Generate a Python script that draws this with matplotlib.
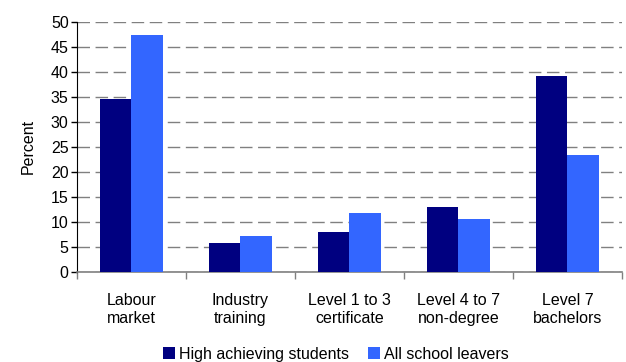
import numpy as np
import matplotlib.pyplot as plt
from matplotlib.ticker import FixedLocator

plt.rcParams['font.family'] = ['Liberation Sans', 'DejaVu Sans']

categories = ['Labour\nmarket', 'Industry\ntraining', 'Level 1 to 3\ncertificate',
              'Level 4 to 7\nnon-degree', 'Level 7\nbachelors']
high_achieving = [34.5, 5.7, 8.0, 13.0, 39.2]
all_leavers = [47.4, 7.2, 11.8, 10.6, 23.4]
series_names = ['High achieving students', 'All school leavers']

fs = 11.5

fig = plt.figure(figsize=(6.26, 3.62), dpi=100)
ax = fig.add_axes([0.123, 0.249, 0.8706, 0.691])

x = np.arange(len(categories))
w = 0.29
ax.bar(x - w / 2, high_achieving, w, color='#000080', label=series_names[0], zorder=3)
ax.bar(x + w / 2, all_leavers, w, color='#3366FF', label=series_names[1], zorder=3)

ax.set_xlim(-0.5, len(categories) - 0.5)
ax.set_ylim(0, 50)
ax.set_yticks(np.arange(0, 51, 5))
ax.yaxis.grid(True, color='#808080', linestyle=(0, (9, 4)), linewidth=1.0, zorder=0)
ax.set_axisbelow(True)

ax.set_xticks(x)
ax.set_xticklabels(categories, fontsize=fs, linespacing=1.3)
ax.tick_params(axis='x', which='major', length=0, pad=15)
ax.xaxis.set_minor_locator(FixedLocator(np.arange(-0.5, len(categories), 1.0)))
ax.tick_params(axis='x', which='minor', length=5, width=1, color='#808080')
ax.tick_params(axis='y', length=4, width=1, labelsize=fs, pad=2)

for s in ['top', 'right']:
    ax.spines[s].set_visible(False)
ax.spines['left'].set_color('black')
ax.spines['bottom'].set_color('#808080')
ax.spines['bottom'].set_linewidth(1.2)

ax.set_ylabel('Percent', fontsize=fs, labelpad=11)

fig.legend(loc='center', bbox_to_anchor=(0.537, 0.022), ncol=2, frameon=False,
           fontsize=fs, handlelength=0.75, handleheight=0.75, handletextpad=0.25,
           columnspacing=1.2)

fig.savefig('out.png', dpi=100)
